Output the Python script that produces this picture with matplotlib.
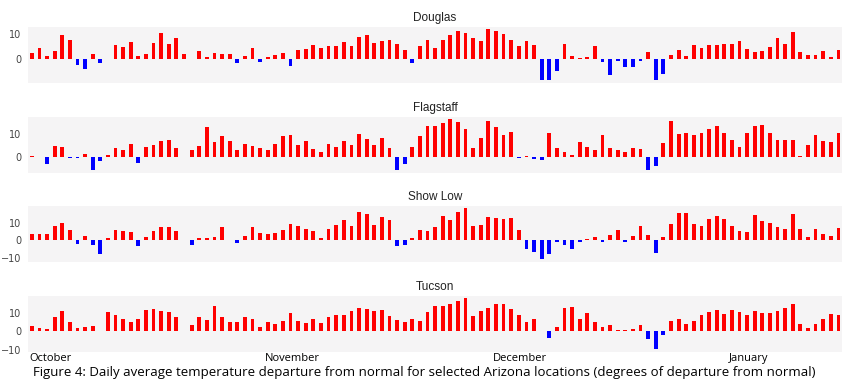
import matplotlib
matplotlib.use('Agg')
import matplotlib.pyplot as plt
from matplotlib.ticker import MultipleLocator
import numpy as np
import pandas as pd

# daily dates, Oct 1 to Jan 15
days = pd.date_range('2016-10-01', '2017-01-15', freq='D')

stations = ['Douglas', 'Flagstaff', 'Show Low', 'Tucson']

douglas = [2.5, 4.7, 1.2, 3.5, 9.7, 7.6, -2.3, -3.9, 2.3, -1.6,
           0.2, 5.7, 5.1, 6.8, 1.3, 2.1, 6.4, 10.5, 6.1, 8.4,
           2.3, 0.3, 3.3, 0.9, 2.7, 2.0, 2.0, -1.5, 1.2, 4.4,
           -1.3, 0.8, 1.6, 2.5, -2.9, 3.7, 4.0, 5.9, 4.4, 5.3,
           5.2, 6.9, 5.5, 8.8, 9.6, 6.5, 7.3, 7.7, 6.3, 3.6,
           -1.7, 5.3, 7.6, 4.5, 7.7, 9.6, 11.3, 10.5, 8.4, 7.3,
           12.0, 11.3, 10.1, 7.9, 5.2, 7.3, 5.6, -8.4, -8.4, -4.7,
           6.3, 1.3, 0.5, 1.1, 5.2, -1.1, -6.4, -0.7, -3.3, -3.3,
           -0.7, 2.8, -8.5, -6.1, 1.9, 3.7, 1.3, 5.7, 4.7, 5.7,
           5.7, 6.1, 6.1, 7.3, 4.0, 3.1, 3.5, 4.9, 8.7, 6.3,
           11.1, 2.8, 1.7, 1.7, 3.5, 1.1, 3.9]

flagstaff = [0.7, 0.2, -2.6, 4.7, 4.2, -0.4, -0.4, 1.4, -5.4, -1.5,
             1.0, 4.0, 3.1, 5.7, -2.4, 4.3, 5.1, 6.7, 7.2, 3.8,
             0.0, 3.3, 4.6, 12.9, 6.3, 9.0, 6.8, 3.2, 5.6, 4.7,
             3.8, 3.1, 5.7, 9.0, 9.3, 5.1, 6.9, 3.5, 2.2, 5.6,
             4.3, 6.8, 5.1, 10.0, 7.8, 5.1, 8.1, 3.9, -5.1, -2.8,
             4.3, 8.8, 13.1, 13.3, 14.4, 16.0, 14.7, 12.1, 4.0, 8.3,
             15.4, 12.8, 9.2, 10.7, -0.4, 0.7, -0.7, -1.3, 10.1, 4.0,
             2.2, 1.0, 6.4, 4.4, 3.2, 9.3, 3.9, 2.9, 2.4, 4.0,
             3.6, -5.4, -3.8, 6.0, 15.4, 9.9, 10.4, 9.4, 10.4, 11.8,
             13.3, 10.1, 7.2, 4.2, 10.1, 13.1, 13.6, 10.4, 7.5, 7.5,
             7.5, 0.4, 5.4, 9.3, 6.8, 6.3, 10.1]

show_low = [3.6, 3.4, 3.8, 8.2, 10.1, 5.9, -2.1, 2.5, -3.0, -8.2,
            1.3, 5.7, 5.5, 5.0, -3.2, 2.1, 5.5, 7.4, 7.6, 5.3,
            0.2, -2.5, 1.5, 1.3, 1.9, 7.6, 0.2, -1.5, 2.7, 7.4,
            4.4, 3.6, 4.0, 5.7, 9.5, 8.0, 6.3, 5.1, 1.1, 6.3,
            8.8, 11.6, 8.0, 16.2, 15.0, 8.6, 13.3, 11.6, -3.4, -3.0,
            1.3, 5.9, 5.5, 7.8, 13.9, 11.6, 16.0, 18.3, 8.2, 9.0,
            13.3, 12.6, 12.4, 12.8, 5.9, -5.0, -7.0, -11.0, -7.8, -1.1,
            -2.7, -4.8, -0.8, 0.8, 2.1, -1.0, 3.2, 5.9, -1.1, 2.5,
            8.2, 3.2, -7.2, 1.9, 9.3, 15.4, 15.4, 9.5, 8.0, 12.0,
            13.9, 12.4, 8.4, 5.3, 4.8, 14.7, 11.2, 10.1, 7.4, 6.5,
            14.9, 6.7, 1.7, 6.5, 3.6, 2.5, 7.2]

tucson = [2.9, 1.6, 1.1, 7.5, 10.9, 4.9, 1.6, 2.4, 2.9, 0.2,
          10.7, 8.7, 6.9, 4.9, 6.5, 11.5, 12.0, 11.3, 10.7, 7.5,
          0.2, 3.6, 8.0, 6.2, 13.6, 7.5, 4.9, 5.3, 7.6, 6.4,
          2.2, 5.3, 4.2, 5.8, 9.8, 5.6, 4.7, 6.7, 4.4, 7.6,
          8.7, 9.1, 10.9, 12.4, 12.0, 11.3, 11.5, 8.4, 6.0, 5.1,
          6.4, 5.5, 10.7, 13.6, 13.6, 14.7, 16.7, 18.0, 8.4, 10.9,
          12.5, 14.9, 14.7, 12.0, 8.7, 4.9, 6.5, 0.2, -3.6, 2.5,
          12.4, 13.1, 6.5, 9.8, 5.3, 2.2, 3.5, 0.9, 0.7, 1.1,
          3.3, -4.2, -9.8, -2.2, 5.5, 6.5, 3.8, 5.6, 8.7, 10.7,
          11.6, 9.5, 11.5, 10.4, 8.9, 11.3, 10.0, 10.2, 10.9, 12.4,
          15.1, 3.8, 1.6, 4.2, 6.9, 9.3, 8.9]

series = [douglas, flagstaff, show_low, tucson]

caption = ('Figure 4: Daily average temperature departure from normal '
           'for selected Arizona locations (degrees of departure from normal)')

fig = plt.figure(figsize=(8.49, 3.84), dpi=100)

x = np.arange(len(days))
bottoms = [0.784, 0.550, 0.318, 0.084]
for name, vals, b in zip(stations, series, bottoms):
    ax = fig.add_axes([0.033, b, 0.959, 0.146])
    vals = np.array(vals)
    colors = np.where(vals >= 0, '#ff0000', '#0000ff')
    ax.bar(x, vals, width=0.5, color=colors)
    ax.set_facecolor('#f5f4f5')
    ax.set_xlim(-0.5, len(days) - 0.5)
    ax.yaxis.set_major_locator(MultipleLocator(10))
    ax.tick_params(axis='y', length=0, labelsize=7, labelcolor='#444444', pad=5)
    ax.set_xticks([])
    for s in ax.spines.values():
        s.set_visible(False)
    ax.set_title(name, fontsize=8.5, pad=4, family='Liberation Sans', color='#222222')

# month labels under the last panel
starts = np.where(days.day == 1)[0]
for i in starts:
    ax.text(i - 0.35, -0.03, days[i].strftime('%B'), transform=ax.get_xaxis_transform(),
            ha='left', va='top', fontsize=8, family='Open Sans')

fig.text(0.5, 0.03, caption, ha='center', va='center', fontsize=9.5, family='Open Sans')

fig.savefig('out.png', dpi=100)
